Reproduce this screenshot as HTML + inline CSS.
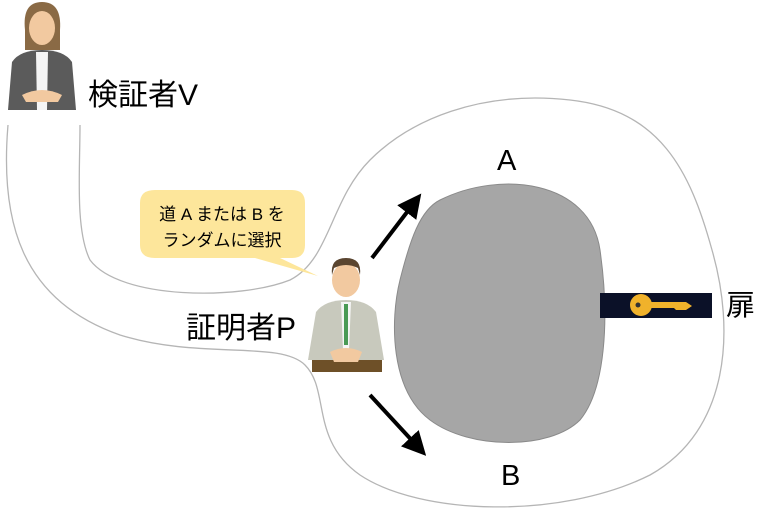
<!DOCTYPE html>
<html><head><meta charset="utf-8"><style>
html,body{margin:0;padding:0;background:#fff}
svg{display:block}
text{font-family:"Liberation Sans","Noto Sans CJK JP",sans-serif}
</style></head><body>
<svg width="780" height="513" viewBox="0 0 780 513" xmlns="http://www.w3.org/2000/svg">
<defs><marker id="ah" markerWidth="6" markerHeight="6" refX="3" refY="3" orient="auto" markerUnits="strokeWidth"><path d="M0,0 L6,3 L0,6 z" fill="#000"/></marker></defs>
<path d="M8,125 C0,220 20,300 120,335 C200,360 280,340 305,365 C330,390 310,440 360,475 C420,515 560,520 650,475 C730,430 735,330 712,250 C690,170 660,110 570,100 C480,90 410,120 370,160 C330,200 330,260 290,280 C240,300 120,300 90,260 C75,230 80,170 80,125" fill="none" stroke="#b5b5b5" stroke-width="1.3"/>
<path d="M440,200 C500,170 590,180 600,250 C610,320 605,390 580,420 C550,450 470,450 430,420 C390,390 390,320 400,280 C410,240 420,210 440,200 Z" fill="#a6a6a6" stroke="#8a8a8a" stroke-width="1"/>
<rect x="600" y="293" width="112" height="25" fill="#0b1128"/>
<circle cx="641" cy="305" r="11" fill="#f0b22b"/><circle cx="638" cy="305" r="2.5" fill="#333"/>
<path d="M650,302 L686,302 L692,306 L686,310 L676,310 L674,308 L650,308 Z" fill="#f0b22b"/>
<line x1="372" y1="258" x2="414" y2="203" stroke="#000" stroke-width="4" marker-end="url(#ah)"/>
<line x1="370" y1="395" x2="418" y2="447" stroke="#000" stroke-width="4" marker-end="url(#ah)"/>
<path d="M155,190 H292 Q305,190 305,203 V245 Q305,258 292,258 H280 L318,276 L255,258 H155 Q140,258 140,245 V203 Q140,190 155,190 Z" fill="#fde69b"/>
<text x="222" y="220" font-size="17" text-anchor="middle">道 A または B を</text>
<text x="222" y="246" font-size="17" text-anchor="middle">ランダムに選択</text>
<text x="88" y="105" font-size="30">検証者V</text>
<text x="186" y="338" font-size="30">証明者P</text>
<text x="497" y="170" font-size="29">A</text>
<text x="501" y="485" font-size="29">B</text>
<text x="726" y="315" font-size="29">扉</text>
<g>
<path d="M25,30 Q22,2 42,2 Q62,2 60,30 L60,50 L25,50 Z" fill="#8a6a45"/>
<ellipse cx="42" cy="28" rx="13" ry="17" fill="#f2c9a0"/>
<path d="M8,110 L12,62 Q20,50 42,50 Q64,50 72,62 L76,110 Z" fill="#5b5b5b"/>
<path d="M36,52 L48,52 L47,110 L37,110 Z" fill="#f5f5f5"/>
<path d="M22,95 Q42,85 62,95 L58,102 L26,102 Z" fill="#f2c9a0"/>
</g>
<g>
<ellipse cx="346" cy="280" rx="14" ry="17" fill="#f2c9a0"/>
<path d="M332,275 Q330,258 346,258 Q362,258 360,275 L358,268 Q346,262 334,268 Z" fill="#5a4530"/>
<rect x="312" y="352" width="70" height="20" fill="#6e5028"/>
<path d="M308,360 L316,312 Q325,300 346,300 Q367,300 376,312 L384,360 Z" fill="#c8c9bd"/>
<path d="M341,302 L351,302 L349,350 L343,350 Z" fill="#f5f5f5"/>
<path d="M344,304 L348,304 L348,345 L344,345 Z" fill="#4a9a55"/>
<path d="M330,352 Q346,344 362,352 L358,362 L334,362 Z" fill="#f2c9a0"/>
</g>
</svg>
</body></html>
